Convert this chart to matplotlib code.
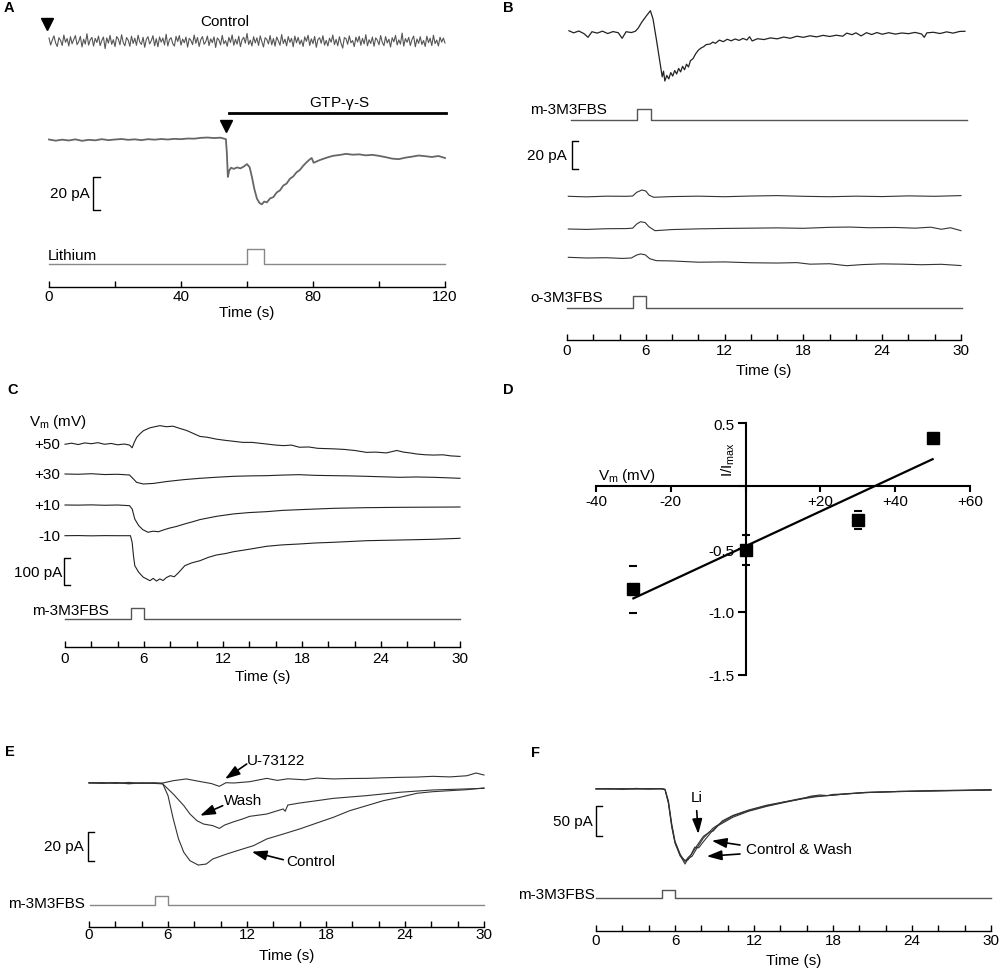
import numpy as np
import matplotlib
matplotlib.use('Agg')
import matplotlib.pyplot as plt

plt.rcParams['font.family'] = ['Liberation Sans', 'DejaVu Sans']
plt.rcParams['mathtext.fontset'] = 'custom'
plt.rcParams['mathtext.rm'] = 'Liberation Sans'
plt.rcParams['mathtext.it'] = 'Liberation Sans'
plt.rcParams['font.size'] = 11

######## data (time in s, current in pA relative to each trace's baseline)

## A : control noise sampled every 0.5 s, 0..120 s
a_ctrl_noise = [
    1.8, -2.4, 0.6, 3.1, -1.2, -3.3, 2.0, 0.4, -2.7, 3.6, -0.8, 1.5,
    -3.0, 2.6, -1.7, 0.9, 3.3, -2.2, -0.4, 2.8, -3.6, 1.1, -1.9, 4.4,
    -2.5, 0.7, 2.2, -3.1, 1.6, -0.9, 3.0, -2.8, 0.3, 2.4, -4.6, 1.9,
    -1.3, 3.4, -2.0, 0.8, -3.4, 2.7, 1.2, -2.3, 3.8, -1.0, -2.9, 2.1,
    0.5, -3.2, 2.9, -1.5, 1.7, -2.6, 3.5, -0.6, -2.1, 2.3, -3.8, 1.0,
    2.6, -1.8, 0.2, 3.2, -2.9, 1.4, -3.5, 2.5, -0.7, 1.8, -2.4, 4.1,
    -3.0, 0.9, 2.0, -1.6, -3.1, 2.8, -0.3, 3.3, -2.5, 1.2, -1.1, 2.4,
    -3.7, 1.6, 0.4, -2.2, 3.6, -1.4, 2.1, -3.3, 0.8, 2.7, -2.0, -0.5,
    3.0, -2.8, 1.3, -1.0, 2.5, -3.9, 1.8, 0.6, -2.4, 3.4, -1.7, 0.2,
    -3.2, 2.2, -0.9, 3.7, -2.6, 1.0, -1.9, 2.9, -3.4, 0.7, 2.3, -1.3,
    4.6, -2.1, 0.5, -3.0, 2.6, -1.2, 1.9, -2.7, 3.1, -0.4, -3.6, 2.0,
    0.9, -1.8, 3.3, -2.3, 1.5, -3.1, 2.4, 0.1, -2.6, 3.9, -1.5, 1.1,
    -2.9, 2.7, -0.8, 1.6, -3.5, 3.0, -1.1, 2.2, -2.0, 0.6, -3.3, 2.5,
    -0.2, 3.5, -2.7, 1.3, -1.6, 2.8, -3.8, 0.9, 2.0, -1.4, 3.2, -2.5,
    0.4, -3.0, 1.7, -0.7, 3.6, -2.2, 1.0, -2.9, 2.6, -1.3, -4.3, 2.1,
    1.4, -2.0, 3.1, -1.1, 0.3, -3.4, 2.3, -0.6, 2.9, -2.6, 1.6, -1.8,
    3.8, -2.9, 0.8, -1.5, 2.4, -3.2, 1.9, 0.5, -2.3, 3.3, -0.9, -2.8,
    2.7, -1.2, 1.1, -3.6, 2.0, -0.5, 3.4, -2.4, 0.7, -1.9, 4.8, -3.1,
    1.5, -0.8, 2.2, -2.7, 0.9, 3.0, -3.5, 1.2, -1.4, 2.6, -2.1, 0.3,
    -3.3, 2.9, -1.0, 1.7, -2.8, 3.5, -1.6, 0.6, -3.0, 2.3, -0.7, 1.8,
    -1.2]
a_gtp = [(0, 0.3), (2, -0.4), (4, 0.2), (6, -0.3), (8, 0.4), (10, -0.5), (12, 0.1),
         (14, -0.2), (16, 0.5), (18, -0.1), (20, 0.3), (22, 0.6), (24, 0.1), (26, 0.4),
         (28, -0.1), (30, 0.5), (32, 0.2), (34, 0.6), (36, 0.3), (38, 0.7), (40, 0.5),
         (42, 0.9), (44, 0.8), (46, 1.3), (48, 1.5), (50, 1.2), (52, 1.4), (53.6, 0.5),
         (53.9, -8), (54.2, -22.4), (54.6, -18.5), (55.2, -16.8), (56, -17.5), (57, -16.6),
         (58, -17.2), (59, -16.1), (60, -14.6), (60.8, -16.5), (61.5, -22.5), (62.2, -29.5),
         (63, -35.5), (63.8, -38.2), (64.5, -39), (65.2, -37.3), (66, -37.8), (67, -35.4),
         (68, -34.6), (69, -31.8), (70, -30.5), (71, -27.6), (72, -26.4), (73, -23.5),
         (74, -22.1), (75, -19.6), (76, -18.2), (77, -15.7), (78, -13.6), (79, -11.8),
         (79.6, -10.9), (80.2, -13.8), (81, -13.1), (82, -12.2), (83, -11.5), (84, -10.8),
         (86, -9.6), (88, -9.1), (90, -8.4), (92, -8.9), (94, -8.7), (96, -9.3), (98, -9.0),
         (100, -9.6), (102, -10.4), (104, -11.3), (106, -11.6), (108, -10.7), (110, -10.1),
         (112, -9.4), (114, -9.8), (116, -10.3), (118, -9.7), (120, -10.9)]
a_marks = [-0.6, 53.6]          # arrowheads over the traces
a_gtp_bar = (54.5, 120.3)       # GTP-gamma-S period
a_lithium = (60.0, 65.2)

## B
b_m_trace = [(0.15, 0.9), (0.5, -0.6), (0.9, 0.7), (1.3, -1.2), (1.6, -3.8), (1.9, 0.2),
             (2.3, -0.8), (2.7, 0.6), (3.1, -1.1), (3.5, 0.3), (3.9, -0.5), (4.2, -4.5),
             (4.5, 0.2), (4.9, -0.4), (5.2, 0.5), (5.4, 2.5), (5.7, 7.1), (6.05, 11.6),
             (6.35, 15.2), (6.55, 9.3), (6.8, -5), (7.05, -20), (7.25, -32), (7.35, -28),
             (7.45, -35), (7.6, -31), (7.75, -33.5), (7.9, -29), (8.05, -31.5), (8.2, -27.5),
             (8.35, -30), (8.5, -26), (8.65, -28.5), (8.8, -24.5), (8.95, -27), (9.1, -23),
             (9.25, -25), (9.4, -20.5), (9.6, -19), (9.8, -15.5), (10.0, -13), (10.2, -11.5),
             (10.4, -10.5), (10.6, -9), (10.9, -8.6), (11.1, -7.2), (11.3, -8.1), (11.6, -5.8),
             (11.9, -6.9), (12.2, -5.2), (12.5, -6.3), (12.8, -5), (13.1, -6), (13.4, -4.6),
             (13.7, -5.7), (13.9, -3.4), (14.1, -6.4), (14.5, -4.8), (15, -5.4), (15.5, -4.2),
             (16, -4.9), (16.5, -3.6), (17, -4.5), (17.5, -3), (18, -3.8), (18.5, -2.7),
             (19, -3.5), (19.5, -2.4), (20, -3.2), (20.5, -2.3), (21, -3.0), (21.3, -0.8),
             (21.7, -1.9), (22, -0.6), (22.4, -2.8), (22.8, -0.5), (23.2, -1.8), (23.6, -0.4),
             (24, -1.6), (24.5, -0.5), (25, -1.5), (25.5, -0.7), (26, -1.2), (26.5, -0.3),
             (27, -1.4), (27.2, -3.8), (27.4, -0.6), (27.9, -0.2), (28.4, -1.1), (28.9, 0.1),
             (29.4, -0.8), (29.9, 0.4), (30.3, 0.5)]
b_o_trace1 = [(0.1, 0), (1.5, -0.4), (3, 0.1), (4.5, 0), (5.0, 0.2), (5.3, 2.8), (5.7, 4.5),
              (6.0, 3.8), (6.25, 0.8), (6.6, -0.7), (8, -0.2), (10, 0.1), (12, -0.3), (14, 0.2),
              (16, 0.5), (18, 0), (20, -0.3), (22, 0.1), (24, -0.2), (26, 0.3), (28, 0), (30, 0.5)]
b_o_trace2 = [(0.1, 0), (1.5, -0.3), (3, 0.2), (4.5, 0.3), (5.0, 0.6), (5.3, 3.5), (5.6, 5.2),
              (5.95, 4.6), (6.25, 1.5), (6.7, -1.2), (8, -0.4), (10, 0.1), (12, 0.4), (14, 0.6),
              (16, 0.8), (18, 0.5), (20, 1.2), (21.5, 1.4), (23, 0.9), (25, 1.1), (26.5, 0.6),
              (27.7, 1.3), (28.5, -0.2), (29.2, 0.9), (30, -1.2)]
b_o_trace3 = [(0.1, 0), (1.5, -0.5), (3, -0.3), (4.2, -0.8), (4.9, -0.5), (5.3, 1.6), (5.6, 2.4),
              (5.95, 1.8), (6.3, -1), (6.8, -2.4), (8, -2.6), (10, -3.5), (12, -3.3), (14, -3.9),
              (16, -4.1), (17.5, -3.8), (18.5, -4.9), (20, -4.6), (21.3, -6.0), (22.5, -5.2),
              (24, -4.7), (25.5, -4.9), (27, -5.3), (28.5, -5.0), (30, -5.9)]
b_m_pulse = (5.3, 6.4)
b_o_pulse = (5.0, 6.0)

## C : holding potentials and currents
c_vm_labels = ['+50', '+30', '+10', '-10']
c_p50 = [(0, -1), (0.5, 3), (1, -2), (1.5, 4), (2, 1), (2.5, 5), (3, -1), (3.5, 2), (4, -3),
         (4.5, 0), (4.9, -4), (5.1, -14), (5.25, 5), (5.45, 25), (5.7, 38), (5.95, 49),
         (6.45, 60), (7.2, 68), (7.7, 64), (8.2, 66), (8.7, 58), (9.24, 50), (9.7, 40),
         (10.25, 28), (10.8, 25), (11.5, 18), (12.1, 14), (12.8, 10), (13.5, 6), (14.2, 6),
         (15.3, 0), (16, -4), (16.6, -6), (17.2, -4), (17.8, -12), (18.5, -11), (19.2, -16),
         (20.4, -18), (21.2, -20), (22, -24), (22.9, -31), (23.6, -30), (24.4, -33),
         (25.2, -24), (25.7, -30), (26.2, -33), (26.7, -37), (27.4, -40), (28, -41),
         (28.7, -40), (29.3, -44), (30, -46)]
c_p30 = [(0, 0), (1, -1), (2, 1), (3, -2), (4, -1), (4.9, -3.7), (5.2, -18.5), (5.44, -31),
         (5.95, -37), (6.7, -35), (7.7, -28), (9, -21), (10.25, -16), (11.5, -12), (12.8, -8.6),
         (14, -7), (15.3, -6.2), (16.5, -4), (17.8, -2.5), (19, -5), (20.4, -6.2), (21.6, -7),
         (22.9, -8.6), (24.2, -10.5), (25.4, -12.3), (26.7, -11), (28, -12.3), (29, -14),
         (30, -16)]
c_p10 = [(0, 0), (1, -0.5), (2, 0.5), (3, -1), (4, 0), (4.9, -2.5), (5.1, -14.8), (5.3, -52),
         (5.6, -76.5), (5.9, -91), (6.3, -101), (6.7, -97), (7.1, -99), (7.5, -92), (7.9, -86),
         (8.5, -79), (9.1, -70), (9.7, -62), (10.25, -54), (11.5, -42), (12.8, -33), (14, -28),
         (15.3, -24.7), (16.5, -20), (17.8, -17.3), (20.4, -12.3), (22.9, -9.9), (25.4, -8.6),
         (30, -7.4)]
c_m10 = [(0, 0), (1, 0.5), (2, -0.5), (3, 0.3), (4, 0), (4.97, 0), (5.1, -24.7), (5.2, -74),
         (5.3, -111), (5.6, -135.6), (5.95, -154), (6.2, -160), (6.45, -166.7), (6.7, -158),
         (6.95, -168), (7.2, -160), (7.45, -166), (7.7, -155), (8, -148), (8.3, -152),
         (8.6, -138), (9.1, -111), (9.6, -101), (10.25, -92.6), (10.9, -80), (11.5, -71.5),
         (12.2, -66), (12.8, -59.3), (13.5, -54), (14.1, -49.3), (15.3, -39.3), (16.5, -34),
         (17.8, -30.7), (19, -27), (20.4, -24.4), (22.9, -18.5), (25.4, -16), (28, -13.3),
         (30, -9.6)]
c_pulse = (5.05, 6.0)

## D : normalised I-V relation
d_vm = [-30, 0, 30, 50]
d_mean = [-0.82, -0.51, -0.27, 0.38]
d_sem = [0.185, 0.12, 0.075, 0.03]

## E
e_control = [(0, 0), (1, 0.3), (2, -0.3), (3, 0.4), (4, -0.2), (5, 0.2), (5.6, -0.5), (6.0, -8.7),
             (6.4, -24.8), (6.8, -38.6), (7.2, -47.8), (7.67, -53.6), (8.3, -56.6), (8.9, -55.9),
             (9.4, -52.4), (10.45, -49), (11.5, -46), (12.5, -43.2), (13.5, -38.6), (14.75, -35.2),
             (16, -31.7), (17.3, -27.6), (18.55, -23.7), (19.8, -19.1), (21.1, -15.6),
             (22.35, -12.2), (23.6, -9.9), (24.9, -7.1), (26.1, -6), (28.7, -4.6), (30, -3.4)]
e_wash = [(0, 0), (1, -0.2), (2, 0.3), (3, -0.4), (4, 0.1), (5, -0.3), (5.6, -0.6), (6.4, -7.6),
          (7.2, -15.6), (7.67, -21.4), (8.2, -26), (8.7, -28.3), (9.4, -29.4), (9.9, -31.3),
          (10.3, -29), (11, -26.7), (11.6, -25), (12.2, -23), (13.5, -21.4), (14.75, -17.9),
          (14.9, -19.5), (15.1, -15.2), (16, -13.8), (17.3, -12.2), (18.55, -10.6), (21.1, -8.7),
          (23.6, -6.4), (26.1, -4.8), (30, -3.7)]
e_u73122 = [(0, 0.3), (1, -0.2), (2, 0.2), (3, -0.5), (4, -0.1), (5, -0.2), (5.6, 0), (6.4, 1.6),
            (7.4, 2.8), (8.2, 1.4), (9.3, -0.4), (9.9, -2.3), (10.4, 0.2), (11, 0), (12.2, 0.9),
            (13.5, 3.2), (14.3, 1.8), (15.1, 2.9), (16.4, 2.2), (17.3, 3.4), (18.55, 2.8),
            (19.8, 3.1), (21.1, 3.2), (22.4, 3.6), (23.6, 3.9), (24.9, 4.1), (26.1, 4.6),
            (27.4, 4.2), (28.7, 5), (29.4, 6.9), (30, 5.5)]
e_pulse = (5.0, 6.0)

## F
f_control = [(0, 0), (1, 0.8), (2, -0.6), (3, 1.0), (4, 0.2), (5, 0.7), (5.24, -1), (5.5, -22),
             (5.75, -61), (6.0, -89), (6.4, -111), (6.76, -125), (7.0, -116), (7.3, -112),
             (7.65, -99), (8.15, -82), (8.9, -65), (9.6, -55), (10.4, -45), (11.6, -36),
             (12.96, -28), (14.2, -22), (15.5, -17), (16.7, -13), (18, -10), (19.2, -8),
             (20.5, -6), (23, -4), (25.6, -3), (28, -2), (30, -1.5)]
f_wash = [(0, 0.5), (1, -0.3), (2, 0.6), (3, -0.2), (4, 0.8), (5, 0.1), (5.24, -0.5), (5.5, -20),
          (5.75, -58), (6.0, -87), (6.4, -109), (6.76, -121), (7.0, -114), (7.2, -110), (7.5, -97),
          (7.8, -98), (8.15, -88), (8.9, -68), (9.2, -62), (9.6, -57), (10.4, -47), (11.6, -37),
          (12.96, -29), (14.2, -23), (15.5, -17), (16.3, -12), (17, -10), (17.6, -11), (18, -9),
          (19.2, -8), (20.5, -5.5), (23, -4.5), (25.6, -2.5), (28, -2.2), (30, -1.0)]
f_li = [(0, 0.2), (1, 0.4), (2, -0.2), (3, 0.5), (4, -0.3), (5, 0.4), (5.24, -0.8), (5.5, -24),
        (5.75, -63), (6.0, -90), (6.4, -112), (6.76, -119), (7.0, -118), (7.3, -107), (7.65, -95),
        (8.15, -79), (8.6, -72), (8.9, -70), (9.6, -53), (10.4, -44), (11.6, -35), (12.96, -27),
        (14.2, -22), (15.5, -16), (16.7, -12), (18, -10.5), (19.2, -7.5), (20.5, -6), (23, -4),
        (25.6, -3.5), (28, -2.5), (30, -2)]
f_pulse = (5.0, 6.0)

######## figure
W, H = 1000, 970
fig = plt.figure(figsize=(W / 100, H / 100), dpi=100)


def ftext(x, y, s, **kw):
    kw.setdefault('va', 'center')
    fig.text(x / W, 1 - y / H, s, **kw)


def make_panel(left, right, axis_row, top_row, tmax, ppa, step, lab_every, pad, time_row):
    ax = fig.add_axes([left / W, 1 - axis_row / H, (right - left) / W, (axis_row - top_row) / H])
    ax.patch.set_visible(False)
    ax.set_xlim(0, tmax)
    ax.set_ylim(0, (axis_row - top_row) / ppa)
    for s in ['left', 'right', 'top']:
        ax.spines[s].set_visible(False)
    ax.spines['bottom'].set_linewidth(1.0)
    ticks = np.arange(0, tmax + 1, step)
    ax.set_xticks(ticks, [str(t) if t % lab_every == 0 else '' for t in ticks])
    ax.tick_params(axis='x', direction='in', length=4.3, width=1.0, pad=pad, labelsize=11)
    ax.set_yticks([])
    ftext((left + right) / 2, time_row, 'Time (s)', ha='center')
    X = lambda px: (px - left) / (right - left) * tmax
    Y = lambda row: (axis_row - row) / ppa
    return ax, X, Y


def trace(ax, Y, pts, base_row, **kw):
    t, v = np.array(pts).T
    kw.setdefault('color', '#333333')
    kw.setdefault('lw', 0.8)
    ax.plot(t, v + Y(base_row), clip_on=False, **kw)


def pulse(ax, X, Y, x0, x1, on_off, base_row, top_row, **kw):
    on, off = on_off
    kw.setdefault('color', '#555555')
    kw.setdefault('lw', 1.0)
    b, h = Y(base_row), Y(top_row)
    ax.plot([X(x0), on, on, off, off, X(x1)], [b, b, h, h, b, b], clip_on=False, **kw)


def sbar(ax, X, Y, x_px, top_row, size, tick_px=6):
    y0 = Y(top_row)
    xs, xe = X(x_px), X(x_px + tick_px)
    ax.plot([xe, xs, xs, xe], [y0, y0, y0 - size, y0 - size], color='k', lw=1.0, clip_on=False)


def letter(x, y, s):
    ftext(x, y, s, ha='center', fontsize=10.5, fontweight='bold')

# ---------- A
axA, XA, YA = make_panel(49, 445, 288, 0, 120, 1.65, 20, 40, 1.5, 313.5)
letter(8.5, 8, 'A')
trace(axA, YA, list(zip(np.arange(len(a_ctrl_noise)) * 0.5, a_ctrl_noise)), 42,
      color='#555555', lw=0.8)
trace(axA, YA, a_gtp, 141, color='#666666', lw=1.3)
axA.plot(a_marks, [YA(25), YA(127)], 'v', color='k', ms=9, clip_on=False)
axA.plot(a_gtp_bar, [YA(114)] * 2, color='k', lw=2.0, clip_on=False)
ftext(225, 22.5, 'Control', ha='center')
ftext(339, 104, 'GTP-$\\gamma$-S', ha='center')
sbar(axA, XA, YA, 93, 178, 20, 7)
ftext(90, 194, '20 pA', ha='right')
pulse(axA, XA, YA, 49, 445, a_lithium, 265, 250, color='#888888')
ftext(48, 256.5, 'Lithium', ha='left')

# ---------- B
axB, XB, YB = make_panel(567, 961, 341, 0, 30, 1.4, 2, 6, 2.2, 371.5)
letter(508.5, 8, 'B')
trace(axB, YB, b_m_trace, 33, color='#222222', lw=0.9)
pulse(axB, XB, YB, 571, 967, b_m_pulse, 121, 110)
ftext(530, 110, 'm-3M3FBS', ha='left')
sbar(axB, XB, YB, 572, 142, 20)
ftext(567, 156, '20 pA', ha='right')
for tr, row in zip([b_o_trace1, b_o_trace2, b_o_trace3], [197.3, 230, 258.3]):
    trace(axB, YB, tr, row)
pulse(axB, XB, YB, 567, 962, b_o_pulse, 309, 297)
ftext(530, 298, 'o-3M3FBS', ha='left')

# ---------- C
axC, XC, YC = make_panel(65, 460, 648, 380, 30, 0.27, 2, 6, 3.0, 677)
letter(13, 390, 'C')
ftext(29, 422, 'V$_{\\mathrm{m}}$ (mV)', ha='left')
for tr, row, lab in zip([c_p50, c_p30, c_p10, c_m10], [445, 475, 506, 536.7], c_vm_labels):
    trace(axC, YC, tr, row, color='#222222')
    ftext(60, row, lab, ha='right')
sbar(axC, XC, YC, 64, 559, 100)
ftext(62, 572.5, '100 pA', ha='right')
pulse(axC, XC, YC, 65, 460, c_pulse, 620, 609)
ftext(32, 611.5, 'm-3M3FBS', ha='left')

# ---------- D
axD = fig.add_axes([596 / W, 1 - 676 / H, 374 / W, 252 / H])
axD.patch.set_visible(False)
axD.set_xlim(-40, 60)
axD.set_ylim(-1.5, 0.5)
axD.spines['left'].set_position(('data', 0))
axD.spines['bottom'].set_position(('data', 0))
axD.spines['right'].set_visible(False)
axD.spines['top'].set_visible(False)
for s in ['left', 'bottom']:
    axD.spines[s].set_linewidth(1.5)
axD.set_xticks([-40, -20, 0, 20, 40, 60], ['-40', '-20', '', '+20', '+40', '+60'])
axD.set_yticks([-1.5, -1.0, -0.5, 0, 0.5], ['-1.5', '-1.0', '-0.5', '', '0.5'])
axD.tick_params(axis='x', direction='out', length=4.3, width=1.5, pad=1.5, labelsize=11)
axD.tick_params(axis='y', direction='out', length=5.8, width=1.5, pad=2, labelsize=11)
slope, icpt = np.polyfit(d_vm, d_mean, 1)
fx = np.array([min(d_vm), max(d_vm)])
axD.plot(fx, slope * fx + icpt, color='k', lw=1.6)
axD.errorbar(d_vm, d_mean, yerr=d_sem, fmt='s', color='k', ms=8.5, capsize=2.8,
             capthick=1.5, elinewidth=0, clip_on=False)
letter(508.5, 390, 'D')
axD.text(-39.5, 0.09, 'V$_{\\mathrm{m}}$ (mV)', ha='left', va='center')
axD.text(-4.6, 0.22, 'I/I$_{\\mathrm{max}}$', rotation=90, ha='center', va='center')

# ---------- E
axE, XE, YE = make_panel(89, 484, 928, 700, 30, 1.45, 2, 6, 0.3, 956.5)
letter(10, 752, 'E')
trace(axE, YE, e_u73122, 784)
trace(axE, YE, e_wash, 784)
trace(axE, YE, e_control, 784)
sbar(axE, XE, YE, 88, 833, 20)
ftext(84, 847.5, '20 pA', ha='right')
pulse(axE, XE, YE, 90, 484, e_pulse, 906, 897, color='#888888')
ftext(85, 904, 'm-3M3FBS', ha='right')
ftext(247, 761, 'U-73122', ha='left')
ftext(224, 801, 'Wash', ha='left')
ftext(286, 862.5, 'Control', ha='left')

# ---------- F
axF, XF, YF = make_panel(596, 991, 932, 700, 30, 0.6, 2, 6, 1.5, 961.5)
letter(536, 753, 'F')
for tr in [f_control, f_wash, f_li]:
    trace(axF, YF, tr, 790)
sbar(axF, XF, YF, 596, 807, 50)
ftext(593, 822.5, '50 pA', ha='right')
pulse(axF, XF, YF, 596, 991, f_pulse, 899, 891)
ftext(595, 895, 'm-3M3FBS', ha='right')
ftext(696.5, 798, 'Li', ha='center')
ftext(746, 850, 'Control & Wash', ha='left')

# ---------- annotation arrows (figure pixel coords)
ov = fig.add_axes([0, 0, 1, 1])
ov.set_xlim(0, W)
ov.set_ylim(H, 0)
ov.axis('off')
ov.set_zorder(10)
arrows = [((246.7, 765), (225, 780)), ((222.7, 806.7), (200, 816.7)),
          ((283.3, 860.7), (251.7, 852.7)), ((696.7, 811.7), (698.3, 835)),
          ((740, 846), (711.7, 841.7)), ((740, 855), (706.7, 857.3))]
for tail, head in arrows:
    ov.annotate('', xy=head, xytext=tail,
                arrowprops=dict(arrowstyle='-|>,head_length=0.9,head_width=0.3',
                                color='k', lw=1.2, mutation_scale=10,
                                shrinkA=0, shrinkB=0))

fig.savefig('out.png', dpi=100)
